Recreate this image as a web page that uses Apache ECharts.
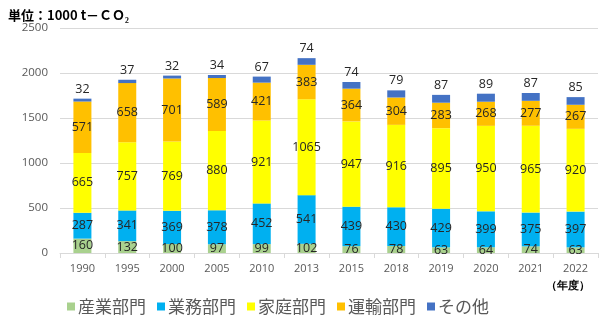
<!DOCTYPE html>
<html><head><meta charset="utf-8">
<script src="https://cdn.jsdelivr.net/npm/echarts@6/dist/echarts.min.js"></script>
<style>html,body{margin:0;padding:0;background:#fff}#c{width:600px;height:323px}</style>
</head><body><div id="c"></div>
<script>
const categories = ['1990','1995','2000','2005','2010','2013','2015','2018','2019','2020','2021','2022'];
const sangyo = [160,132,100,97,99,102,76,78,63,64,74,63];
const gyomu = [287,341,369,378,452,541,439,430,429,399,375,397];
const katei = [665,757,769,880,921,1065,947,916,895,950,965,920];
const unyu = [571,658,701,589,421,383,364,304,283,268,277,267];
const sonota = [32,37,32,34,67,74,74,79,87,89,87,85];
const yTicks = [0,500,1000,1500,2000,2500];

const lbl = {show:true, position:'inside', color:'#262626', fontSize:12.5, fontFamily:'Open Sans'};
function s(name, data, color, label){
  return {name, type:'bar', stack:'a', data, barWidth:18, itemStyle:{color}, label, emphasis:{disabled:true}};
}
const chart = echarts.init(document.getElementById('c'));
chart.setOption({
  animation:false,
  textStyle:{fontFamily:'Noto Sans CJK JP'},
  title:{text:'単位：1000 t－ＣＯ₂', left:3, top:4, textStyle:{fontSize:13, fontWeight:'bold', color:'#000', fontFamily:'Noto Sans CJK JP'}},
  graphic:[{type:'text', right:10, top:280, style:{text:'（年度）', fontSize:11, fontWeight:'bold', fill:'#000', font:'bold 11px "Noto Sans CJK JP"'}}],
  grid:{left:60, right:2, top:28, bottom:70, containLabel:false},
  legend:{left:62, top:293, itemWidth:8, itemHeight:8, itemGap:11, icon:'rect',
    textStyle:{fontSize:17, color:'#595959', fontFamily:'Noto Sans CJK JP', padding:[0,0,0,-2]},
    data:['産業部門','業務部門','家庭部門','運輸部門','その他']},
  xAxis:{type:'category', data:categories,
    axisLine:{lineStyle:{color:'#d9d9d9'}}, axisTick:{show:true, lineStyle:{color:'#d9d9d9'}},
    axisLabel:{color:'#595959', fontSize:11, fontFamily:'Open Sans', margin:10}},
  yAxis:{type:'value', min:0, max:2500, interval:500,
    axisLabel:{color:'#595959', fontSize:11.5, fontFamily:'Open Sans', margin:12, formatter:v=>yTicks.includes(v)?String(v):''},
    splitLine:{lineStyle:{color:'#d9d9d9'}}, axisLine:{show:false}, axisTick:{show:false}},
  series:[
    s('産業部門', sangyo, '#A9D18E', lbl),
    s('業務部門', gyomu, '#00B0F0', lbl),
    s('家庭部門', katei, '#FFFF00', lbl),
    s('運輸部門', unyu, '#FFC000', lbl),
    s('その他', sonota, '#4472C4', {show:true, position:'top', color:'#262626', fontSize:12.5, fontFamily:'Open Sans', distance:3})
  ]
});
</script></body></html>
